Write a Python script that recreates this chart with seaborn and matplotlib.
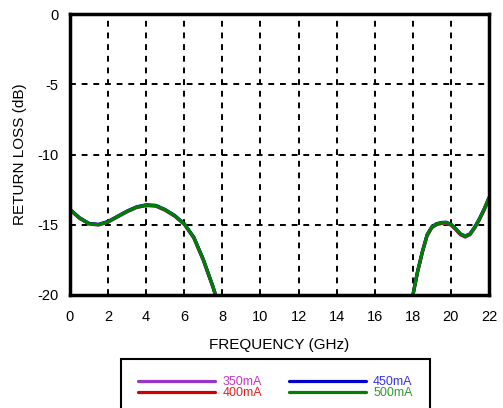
import numpy as np
import pandas as pd
import matplotlib
matplotlib.use("Agg")
import matplotlib.pyplot as plt
import seaborn as sns

# frequency points (GHz) for the two visible parts of the curves
left_x = [0, 0.5, 1.0, 1.5, 2.0, 2.5, 3.0, 3.5, 4.0, 4.5, 5.0, 5.5, 6.0, 6.5, 7.0, 7.5, 8.0]
right_x = [17.8, 18.0, 18.25, 18.5, 18.75, 19.0, 19.25, 19.5, 19.75, 20.0,
           20.25, 20.5, 20.75, 21.0, 21.25, 21.5, 21.75, 22.0]

# return loss (dB) per bias current
y350_left = [-13.95, -14.55, -14.95, -15.02, -14.82, -14.45, -14.08, -13.78, -13.64, -13.68,
             -13.98, -14.4, -14.98, -15.95, -17.55, -19.45, -21.6]
y400_left = [-13.93, -14.52, -14.92, -14.99, -14.79, -14.42, -14.05, -13.75, -13.61, -13.65,
             -13.95, -14.37, -14.95, -15.92, -17.5, -19.4, -21.55]
y450_left = [-13.9, -14.5, -14.9, -14.97, -14.76, -14.39, -14.02, -13.72, -13.58, -13.62,
             -13.92, -14.34, -14.92, -15.88, -17.46, -19.36, -21.5]
y500_left = [-13.92, -14.52, -14.93, -15.0, -14.79, -14.41, -14.04, -13.74, -13.6, -13.64,
             -13.94, -14.36, -14.94, -15.9, -17.48, -19.38, -21.52]

y350_right = [-21.3, -20.1, -18.4, -17.0, -15.8, -15.22, -15.0, -14.92, -14.9, -15.03,
              -15.35, -15.72, -15.88, -15.72, -15.25, -14.65, -13.95, -13.2]
y400_right = [-21.25, -20.05, -18.35, -16.95, -15.75, -15.18, -14.96, -14.88, -14.86, -14.99,
              -15.31, -15.68, -15.84, -15.68, -15.2, -14.6, -13.9, -13.12]
y450_right = [-21.2, -20.0, -18.3, -16.9, -15.7, -15.14, -14.92, -14.84, -14.82, -14.95,
              -15.27, -15.64, -15.8, -15.64, -15.16, -14.56, -13.86, -13.05]
y500_right = [-21.22, -20.02, -18.32, -16.92, -15.72, -15.16, -14.94, -14.86, -14.84, -14.97,
              -15.29, -15.66, -15.82, -15.66, -15.18, -14.58, -13.88, -13.08]

labels = ["350mA", "400mA", "450mA", "500mA"]
line_colors = ["#9933CC", "#CC0000", "#0000CC", "#008000"]
text_colors = ["#CC33CC", "#DD2222", "#3333EE", "#339933"]

x_ticks = list(range(0, 23, 2))
y_ticks = [-20, -15, -10, -5, 0]

sns.set_style("white")
plt.rcParams["font.family"] = ["Liberation Sans", "DejaVu Sans"]
plt.rcParams["axes.unicode_minus"] = False
plt.rcParams["text.color"] = "black"
plt.rcParams["axes.labelcolor"] = "black"
plt.rcParams["xtick.color"] = "black"
plt.rcParams["ytick.color"] = "black"

fig = plt.figure(figsize=(5.03, 4.08), dpi=100)
ax = fig.add_axes([70 / 503, 1 - 295 / 408, 419 / 503, 281 / 408])

series = [(y350_left, y350_right), (y400_left, y400_right),
          (y450_left, y450_right), (y500_left, y500_right)]
for (yl, yr), lab, c in zip(series, labels, line_colors):
    df_l = pd.DataFrame({"f": left_x, "rl": yl})
    df_r = pd.DataFrame({"f": right_x, "rl": yr})
    sns.lineplot(data=df_l, x="f", y="rl", ax=ax, color=c, lw=2.3, label=lab, sort=False)
    sns.lineplot(data=df_r, x="f", y="rl", ax=ax, color=c, lw=2.3, sort=False)

ax.set_xlim(0, 22)
ax.set_ylim(-20, 0)
ax.set_xticks(x_ticks)
ax.set_yticks(y_ticks)
ax.set_xticks(range(0, 23), minor=True)
ax.set_yticks(range(-20, 1), minor=True)
ax.tick_params(which="both", direction="in", labelsize=10.5)
ax.tick_params(which="major", length=5, width=1.5)
ax.tick_params(which="minor", length=4, width=1.5)
ax.tick_params(axis="x", pad=11)
ax.tick_params(axis="y", pad=8.5)
ax.grid(True, which="major", color="black", ls=(0, (3, 3)), lw=1.4)
for s in ax.spines.values():
    s.set_visible(True)
    s.set_color("black")
    s.set_linewidth(2.5)

ax.set_xlabel("FREQUENCY (GHz)", fontsize=11, labelpad=10)
ax.set_ylabel("RETURN LOSS (dB)", fontsize=11, labelpad=7.5)

handles, labs = ax.get_legend_handles_labels()
ax.get_legend().remove()
leg = fig.legend(handles, labs, ncol=2, loc="upper left",
                 bbox_to_anchor=(121 / 503, 1 - 359 / 408),
                 fontsize=9, handlelength=6.2, handletextpad=0.55,
                 columnspacing=2.15, labelspacing=-0.06, borderpad=1.35,
                 borderaxespad=0, fancybox=False, framealpha=1, edgecolor="black")
leg.get_frame().set_linewidth(1.5)
for t, c in zip(leg.get_texts(), text_colors):
    t.set_color(c)

fig.savefig("out.png", dpi=100)
